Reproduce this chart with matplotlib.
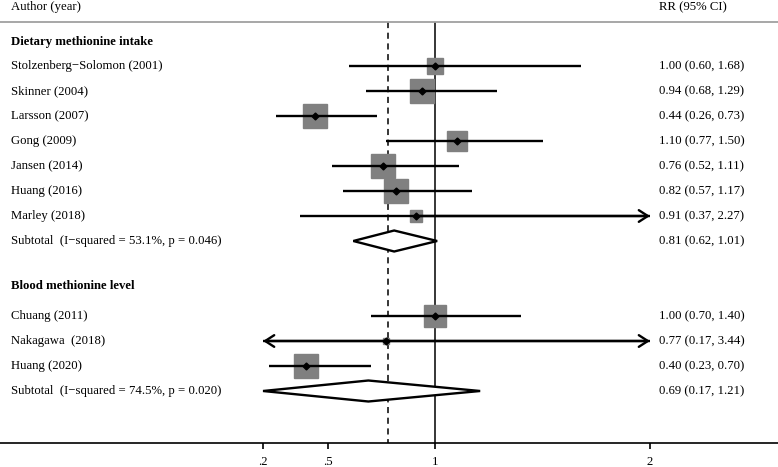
import matplotlib.pyplot as plt
import numpy as np

plt.rcParams['font.family'] = ['Liberation Serif', 'DejaVu Serif']

# ---------------------------------------------------------------------------
# Data
# ---------------------------------------------------------------------------
group_names = ["Dietary methionine intake", "Blood methionine level"]

studies_diet = ["Stolzenberg\u2212Solomon (2001)", "Skinner (2004)", "Larsson (2007)",
                "Gong (2009)", "Jansen (2014)", "Huang (2016)", "Marley (2018)"]
rr_diet = [1.00, 0.94, 0.44, 1.10, 0.76, 0.82, 0.91]
lo_diet = [0.60, 0.68, 0.26, 0.77, 0.52, 0.57, 0.37]
hi_diet = [1.68, 1.29, 0.73, 1.50, 1.11, 1.17, 2.27]
wt_diet = [9.5, 17.5, 19.0, 14.5, 17.5, 17.5, 4.7]

studies_blood = ["Chuang (2011)", "Nakagawa  (2018)", "Huang (2020)"]
rr_blood = [1.00, 0.77, 0.40]
lo_blood = [0.70, 0.17, 0.23]
hi_blood = [1.40, 3.44, 0.70]
wt_blood = [16.0, 1.6, 19.0]

subtotal_rr = [0.81, 0.69]
subtotal_lo = [0.62, 0.17]
subtotal_hi = [1.01, 1.21]
subtotal_het = ["I\u2212squared = 53.1%, p = 0.046", "I\u2212squared = 74.5%, p = 0.020"]

overall_rr = 0.78
xticks = [0.2, 0.5, 1, 2]
xticklabels = [".2", ".5", "1", "2"]
# ---------------------------------------------------------------------------

FS = 9.2
XMIN, XMAX = 0.2, 2.0           # CI lines are clipped here (arrows beyond)
LEFT_X, RIGHT_X = 11 / 778, 659 / 778

fig = plt.figure(figsize=(7.78, 4.67), dpi=100)
ax = fig.add_axes([0, 24 / 467, 1, 443 / 467])
ax.set_xlim(-1.0233, 2.5953)
ax.set_ylim(16.08, -1.64)

for s in ["top", "left", "right"]:
    ax.spines[s].set_visible(False)
ax.spines["bottom"].set_linewidth(1.2)
ax.set_yticks([])
ax.set_xticks(xticks)
ax.set_xticklabels(xticklabels)
ax.tick_params(axis="x", direction="out", length=4.5, width=1.2,
               labelsize=FS, pad=5)

tr = ax.get_yaxis_transform()  # x in axes fraction, y in data

# headers and top rule
ax.text(LEFT_X, -1.36, "Author (year)", transform=tr, fontsize=FS, va="center")
ax.text(RIGHT_X, -1.36, "RR (95% CI)", transform=tr, fontsize=FS, va="center")
ax.axhline(-0.76, color="#a0a0a0", lw=1.3)

# reference lines
ax.vlines(1, -0.76, 16.08, color="black", lw=1.1, zorder=1)
ax.vlines(overall_rr, -0.76, 16.08, color="black", lw=1.1,
          linestyles=(0, (4, 3)), zorder=1)


def arrow(x0, x1, y):
    ax.annotate("", xy=(x1, y), xytext=(x0, y),
                arrowprops=dict(arrowstyle="->,head_length=0.65,head_width=0.42",
                                lw=1.7, color="black", shrinkA=0, shrinkB=0),
                zorder=3)


def draw_group(name, header_y, first_y, studies, rr, lo, hi, wt, sub_i):
    ax.text(LEFT_X, header_y, name, transform=tr, fontsize=FS,
            fontweight="bold", va="center")
    for i, (lab, r, l, h, w) in enumerate(zip(studies, rr, lo, hi, wt)):
        y = first_y + i
        ax.text(LEFT_X, y, lab, transform=tr, fontsize=FS, va="center")
        ax.text(RIGHT_X, y, f"{r:.2f} ({l:.2f}, {h:.2f})", transform=tr,
                fontsize=FS, va="center")
        side = 0.72 * 5.5 * np.sqrt(w)
        ax.plot(r, y, marker="s", ms=side, color="#808080", mec="#808080",
                zorder=2)
        cl, ch = max(l, XMIN), min(h, XMAX)
        ax.plot([cl, ch], [y, y], color="black", lw=1.7, zorder=3,
                solid_capstyle="butt")
        if h > XMAX:
            arrow(r, XMAX, y)
        if l < XMIN:
            arrow(r, XMIN, y)
        ax.plot(r, y, marker="D", ms=3.5, color="black", zorder=4)

    y = first_y + len(studies)
    ax.text(LEFT_X, y, f"Subtotal  ({subtotal_het[sub_i]})", transform=tr,
            fontsize=FS, va="center")
    r, l, h = subtotal_rr[sub_i], subtotal_lo[sub_i], subtotal_hi[sub_i]
    ax.text(RIGHT_X, y, f"{r:.2f} ({l:.2f}, {h:.2f})", transform=tr,
            fontsize=FS, va="center")
    l = max(l, XMIN)
    hh = 0.42
    ax.fill([l, r, h, r, l], [y, y - hh, y, y + hh, y], facecolor="white",
            edgecolor="black", lw=1.7, zorder=3)


draw_group(group_names[0], 0.04, 1, studies_diet, rr_diet, lo_diet, hi_diet,
           wt_diet, 0)
draw_group(group_names[1], 9.8, 11, studies_blood, rr_blood, lo_blood,
           hi_blood, wt_blood, 1)

fig.savefig("out.png", dpi=100)
